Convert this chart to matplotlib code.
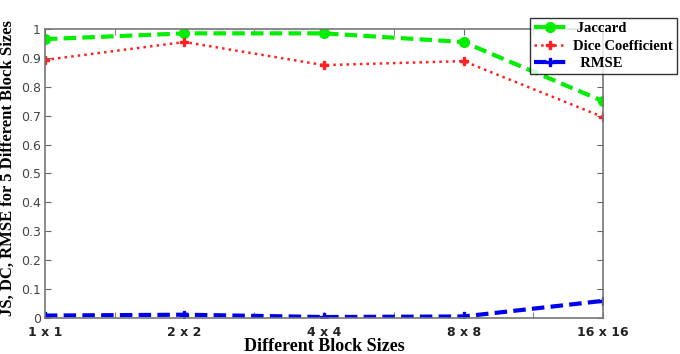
import matplotlib
matplotlib.use('Agg')
import matplotlib.pyplot as plt
import numpy as np
from matplotlib.ticker import FormatStrFormatter, MultipleLocator

# Block sizes and measured scores
block_sizes = ['1 x 1', '2 x 2', '4 x 4', '8 x 8', '16 x 16']
jaccard = [0.965, 0.985, 0.985, 0.955, 0.75]
dice = [0.893, 0.955, 0.875, 0.889, 0.695]
rmse = [0.008, 0.011, 0.003, 0.005, 0.059]

x = np.arange(1, len(block_sizes) + 1)

fig = plt.figure(figsize=(6.8, 3.54), dpi=100)
ax = fig.add_axes([0.066, 0.102, 0.821, 0.816])

ax.plot(x, jaccard, linestyle='--', color='#00ee00', lw=3, marker='o',
        markersize=7, label=' Jaccard', dashes=(3, 1.5))
ax.plot(x, dice, linestyle=':', color='#ff2020', lw=1.8, marker='P',
        markersize=6, label='Dice Coefficient')
ax.plot(x, rmse, linestyle='--', color='#0000ee', lw=3, marker='P',
        markersize=6, label='  RMSE', dashes=(3, 1.5))

ax.set_xlim(1, 5)
ax.set_ylim(0, 1)
ax.set_xticks(x)
ax.set_xticklabels(block_sizes, fontweight='bold', fontsize=9, color='#222222')
ax.xaxis.set_minor_locator(MultipleLocator(0.5))
ax.yaxis.set_major_locator(MultipleLocator(0.1))
ax.yaxis.set_major_formatter(FormatStrFormatter('%g'))
ax.tick_params(axis='y', labelsize=9, labelcolor='#444444', pad=3)
ax.tick_params(which='both', direction='in', top=True, right=True,
               color='#666666', length=4)
ax.tick_params(axis='x', pad=6)
for s in ax.spines.values():
    s.set_color('#777777')
    s.set_linewidth(1.2)

ax.set_xlabel('Different Block Sizes', fontfamily='Liberation Serif',
              fontweight='bold', fontsize=13, labelpad=-1)
ax.set_ylabel('JS, DC, RMSE for 5 Different Block Sizes',
              fontfamily='Liberation Serif', fontweight='bold', fontsize=12)
ax.yaxis.set_label_coords(-0.052, 0.52)

leg = fig.legend(loc='upper left', bbox_to_anchor=(0.78, 0.948),
                 prop={'family': 'Liberation Serif', 'weight': 'bold', 'size': 10.5},
                 frameon=True, fancybox=False, edgecolor='black',
                 handlelength=2.2, handletextpad=0.5, borderpad=0.25,
                 labelspacing=0.3, borderaxespad=0)
leg.get_frame().set_linewidth(1.0)

fig.savefig('out.png', dpi=100)
